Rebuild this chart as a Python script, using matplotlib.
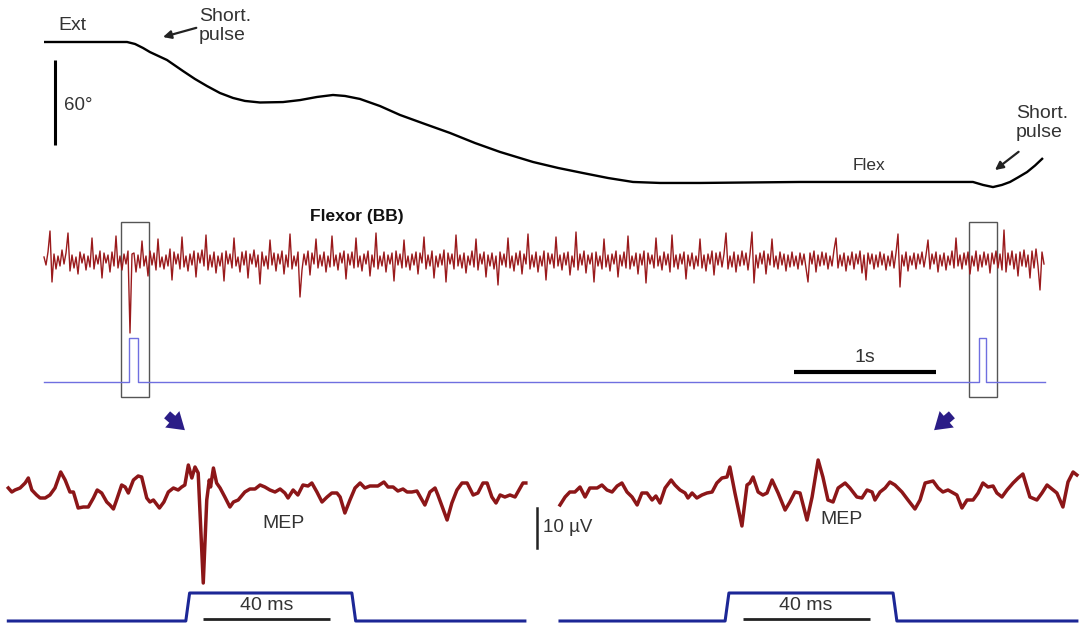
import numpy as np
import matplotlib
matplotlib.use("Agg")
import matplotlib.pyplot as plt
from matplotlib.patches import Rectangle, FancyArrowPatch

plt.rcParams['font.family'] = ['Liberation Sans', 'DejaVu Sans']

W, H = 1080, 624

# ---------------- data ----------------
# elbow angle (s, degrees of flexion from Ext)
ang_t = [0, 0.585, 0.641, 0.697, 0.746, 0.866, 0.979, 1.063, 1.148, 1.239, 1.331,
         1.415, 1.521, 1.683, 1.803, 1.923, 2.035, 2.120, 2.225, 2.366, 2.507,
         2.683, 2.859, 3.035, 3.211, 3.444, 3.620, 3.796, 3.972, 4.148, 4.338,
         4.620, 5.324, 6.028, 6.542, 6.613, 6.683, 6.746, 6.803, 6.859, 6.923,
         6.979, 7.035]
ang_deg = [0, 0, 1.4, 4.2, 7.1, 12.7, 20.5, 26.1, 31.1, 36.0, 39.5,
           41.6, 42.7, 42.4, 41.0, 38.8, 37.4, 38.1, 40.2, 45.2, 51.5,
           57.9, 64.2, 71.3, 77.6, 84.7, 88.9, 92.5, 96.0, 98.8, 99.5,
           99.5, 98.8, 98.8, 98.8, 100.9, 102.4, 100.9, 98.8, 95.6, 91.8,
           87.2, 81.9]

# flexor EMG (BB), raw trace, one sample every 2/142 s
emg_dt = 2 / 142
emg_str = """
3 -5 8 29 -22 6 -9 4 -6 10 -4 7 27 -11 5 -8 3 -14 8 -3
6 -10 4 -7 22 -9 5 -4 9 -18 7 -3 5 -12 8 -6 24 -8 4 -10
6 -4 9 -73 6 7 -12 5 -8 19 -6 4 -16 9 -5 7 -10 21 -7 3
-9 5 -6 11 -20 8 -4 6 -9 23 -7 4 -11 6 -5 9 -17 7 -3 10
-6 25 -10 5 -7 8 -13 4 -6 7 -21 9 -4 6 -8 22 -6 3 -12 8
-5 9 -18 6 -4 10 -7 5 -24 8 -6 4 -9 20 -5 7 -11 6 -4 9
-14 5 -7 26 -9 4 -6 8 -37 -10 6 -5 9 -15 7 -4 21 -8 5 -6
8 -12 4 -7 24 -6 5 -10 7 -3 9 -19 6 -5 8 -8 22 -7 4 -11
6 -4 9 -16 5 -7 27 -9 4 -6 8 -12 5 -4 7 -21 9 -5 6 -8
20 -7 4 -10 6 -5 8 -14 7 -3 23 -9 5 -6 9 -18 4 -7 6 -5
10 -22 7 -4 6 -9 25 -6 5 -8 7 -13 4 -5 9 -7 21 -10 6 -4
8 -17 5 -6 7 -9 4 -25 8 -5 6 -7 22 -8 4 -11 7 -5 9 -14
6 -4 26 -9 5 -7 8 -12 4 -6 9 -20 7 -4 6 -8 23 -6 5 -10
7 -5 8 -15 4 -7 28 -10 6 -5 9 -13 5 -4 7 -22 8 -6 4 -9
21 -7 5 -11 6 -4 9 -17 5 -6 8 -8 24 -9 4 -6 7 -14 6 -5
9 -23 7 -4 5 -8 22 -6 4 -10 8 -5 6 -12 25 -7 5 -9 6 -4
8 -19 5 -6 7 -9 4 -6 21 -8 5 -11 6 -4 9 -15 7 -5 8 -7
6 27 -9 4 -7 8 -12 5 -6 9 -5 7 -10 6 28 -23 5 -8 7 -4
9 -14 6 -5 21 -7 4 -9 8 -5 6 -11 5 -7 8 -6 4 -9 7 -5
6 -8 -22 7 -4 9 -12 5 -6 8 -5 7 -9 4 -6 10 22 -8 5 -6
7 -11 4 -5 8 -9 6 -4 9 -13 5 -20 7 -4 6 -9 5 -7 8 -5
6 -10 4 -6 9 -8 7 26 -27 5 -6 8 -11 4 -5 7 -9 6 -4 8
-7 5 20 -9 6 -4 8 -12 5 -6 7 -10 4 -5 9 -8 22 -6 5 -9
7 -5 8 -14 4 -6 9 -11 5 -7 8 -5 6 -13 7 -4 9 -8 6 -10
30 -12 7 -5 9 -9 6 -16 8 -6 10 -7 5 -18 9 -8 11 -6 -30 8
-4
"""
emg = np.array(emg_str.split(), dtype=float)
emg_t = np.arange(len(emg)) * emg_dt

# stimulation pulses (s)
pulse_on = [0.599, 6.585]
pulse_off = [0.662, 6.634]
rec_end = 7.049

# MEP sweeps (ms, uV)
mep1_t = [0.1, 1.2, 2.2, 3.8, 5.4, 6.4, 7.5, 9.0, 10.1, 11.7, 13.2, 14.8, 16.6, 18.0, 19.5,
          20.6, 22.1, 23.7, 25.3, 26.9, 28.1, 29.5, 31.1, 32.1, 33.2, 34.2, 35.8, 36.9, 37.9,
          39.5, 41.0, 42.1, 43.7, 44.7, 45.8, 47.7, 49.1, 50.5, 52.1, 53.6, 54.7, 55.7, 56.8,
          57.9, 58.9, 59.9, 61.5, 62.6, 63.4, 63.8, 64.7, 65.7, 66.8, 68.3, 69.9, 71.0, 72.5,
          74.6, 76.2, 77.8, 79.4, 80.9, 82.5, 84.1, 85.7, 87.2, 88.2, 89.8, 91.3, 92.9, 94.5,
          95.7, 97.3, 98.9, 100.5, 102.0, 103.6, 104.6, 106.1, 107.7, 109.3, 110.9, 112.4,
          114.0, 116.5, 118.4, 119.7, 121.3, 122.8, 124.4, 125.7, 127.2, 128.8, 130.4, 131.3,
          132.9, 134.5, 135.4, 138.3, 139.8, 141.4, 143.0, 144.6, 146.5, 148.0, 149.6, 150.9,
          152.4, 153.7, 155.0, 156.5, 158.1, 159.7, 161.3, 162.2, 163.1]
mep1_v = [0.5, -0.5, 0, 0.5, 1.75, 3, 0, -1.25, -2, -2, -1.25, 0.5, 4.5, 2.5, -0.5,
          -0.5, -4.5, -4.25, -4.25, -2, 0, -0.75, -3, -3.75, -4.75, -2.5, 1.25, 0.75, -0.75,
          2.5, 3.5, 3.25, -2, -3, -2.5, -4.5, -3, -0.5, 0.5, 0, 0.75, 1.25, 6.25,
          3, 5.75, 4.25, -23.25, -2.5, 2.5, 0.75, 5.5, 1.75, 0.5, -1.75, -4.25, -3, -2.5,
          -0.5, 0.25, 0.25, 1.25, 0.75, 0, -0.5, 0.25, -0.75, -2, 0, -1.25, 1.25, 1,
          1.75, -0.5, -3, -1.75, -0.75, -0.75, -1.75, -5.75, -2.5, 0.5, 1.75, 0.5,
          1, 1, 2, 0.75, 0.75, -0.25, 0.25, -0.5, -0.5, -0.25, -2.5, -3.75,
          -0.5, 0.5, -1.25, -7.5, -3.25, 0, 1.75, 1.75, -1.25, -0.75, 1.75, 1.75,
          -1.75, -3.25, -1.25, -1.75, -1.25, -1.75, 0.5, 1.75, 1.75]

mep2_t = [0, 1.6, 3.1, 4.7, 6.3, 7.9, 9.4, 11.7, 13.2, 14.8,
          16.4, 18.0, 19.5, 21.1, 22.7, 24.3, 25.8, 27.4, 29.0, 30.2,
          31.5, 33.1, 35.0, 36.2, 37.8, 39.4, 40.3, 41.6, 43.1, 44.7,
          46.3, 47.9, 49.4, 51.0, 52.6, 53.5, 55.1, 57.3, 58.9, 59.8,
          60.8, 62.4, 63.9, 65.2, 66.8, 68.7, 70.9, 72.4, 74.0, 75.6,
          77.8, 79.4, 81.3, 82.8, 84.4, 86.0, 87.6, 89.8, 91.3, 93.5,
          95.1, 96.7, 98.3, 99.2, 100.8, 102.4, 103.9, 105.5, 107.7, 109.6,
          111.8, 113.4, 115.0, 117.5, 119.1, 120.6, 122.2, 125.0, 126.6, 128.2,
          130.1, 131.7, 133.2, 134.8, 136.4, 137.6, 139.2, 140.8, 142.7, 144.3,
          145.8, 148.0, 150.2, 151.8, 153.4, 156.5, 158.4, 160.0, 161.6, 162.8]
mep2_v = [-3.75, -1.75, -0.5, -0.5, 0.75, -1.75, 0.5, 0.5, 1.25, 0,
          -0.5, 1, 1.75, -0.5, -1.75, -3.75, -0.75, -0.75, -2.5, -1.5,
          -3.25, 0.5, 2.5, 1.25, 0, -0.75, -2, -0.75, -2, -1.25,
          -0.75, -0.5, 1.75, 3, 3.25, 5.75, -0.75, -9, 1.25, 1.75,
          3.25, -0.5, -1.25, -0.75, 2.5, -0.75, -5, -3, -0.5, -0.75,
          -7.5, -1.75, 7.5, 3.25, -2.5, -3, 0.5, 1.75, 0.5, -1.75,
          -2, 0, -0.5, -2.5, -0.5, 0.5, 2, 1.25, -0.5, -2.5,
          -4.75, -2.5, 1.75, 2.25, 0.5, -0.5, 0, -1.25, -4.5, -2.5,
          -2.5, -0.75, 1.75, 0.75, 1, -0.75, -1.75, 0, 1.75, 3,
          4, -1.75, -2.5, -0.75, 1.25, -0.75, -4.25, 2, 4.5, 3.75]

# stimulus window in each sweep (ms)
sweep_on = [56.0, 52.0]
sweep_off = [108.3, 104.9]
sweep_end = 162.8
bar_ms = [61.5, 57.5]

# ---------------- layout ----------------
RED = '#9a1a1c'
RED_DARK = '#8c1618'
BLUE_THIN = '#6f6fe0'
BLUE = '#1c2796'
TXT = '#333333'
FS = 14


def box(x0, y0, x1, y1):
    return [x0 / W, 1 - y1 / H, (x1 - x0) / W, (y1 - y0) / H]


def fig_xy(x, y):
    return (x / W, 1 - y / H)


fig = plt.figure(figsize=(W / 100, H / 100), dpi=100)

X0, PX_S = 44, 142  # time origin (px) and px per second

# ---- top: elbow angle ----
ax1 = fig.add_axes(box(0, 0, W, 205))
ax1.set_xlim(-X0 / PX_S, (W - X0) / PX_S)
ax1.set_ylim((205 - 42) * 60 / 85, (0 - 42) * 60 / 85)
ax1.plot(ang_t, ang_deg, color='black', lw=1.7, solid_capstyle='butt', solid_joinstyle='round')
ax1.plot([0.077, 0.077], [12.7, 72.7], color='black', lw=2.2, solid_capstyle='butt')
ax1.text(0.141, 44.5, '60°', fontsize=13.5, color=TXT, ha='left', va='center')
ax1.text(0.197, -12, 'Ext', fontsize=FS, color=TXT, ha='center', va='center')
ax1.text(5.81, 87.5, 'Flex', fontsize=12.5, color=TXT, ha='center', va='center')
ax1.annotate('Short.\npulse', xy=(0.838, -3.5), xytext=(1.092, -11.3), fontsize=FS,
             color=TXT, ha='left', va='center', linespacing=1.15,
             arrowprops=dict(arrowstyle='-|>', color='#222222', lw=1.6, mutation_scale=12,
                             shrinkA=0, shrinkB=0, relpos=(-0.05, 0.45)))
ax1.annotate('Short.\npulse', xy=(6.697, 90.4), xytext=(6.845, 57.2), fontsize=FS,
             color=TXT, ha='left', va='center', linespacing=1.15,
             arrowprops=dict(arrowstyle='-|>', color='#222222', lw=1.6, mutation_scale=12,
                             shrinkA=0, shrinkB=0, relpos=(0.05, -0.3)))
ax1.axis('off')

# ---- middle: EMG + trigger ----
ax2 = fig.add_axes(box(0, 200, W, 410))
ax2.set_xlim(-X0 / PX_S, (W - X0) / PX_S)
ax2.set_ylim(-150, 60)
ax2.plot(emg_t, emg, color=RED, lw=1.0)

TRIG_Y, TRIG_H = -122, 44
tt, tv = [0], [0]
for on, off in zip(pulse_on, pulse_off):
    tt += [on, on, off, off]
    tv += [0, 1, 1, 0]
tt.append(rec_end)
tv.append(0)
ax2.plot(tt, TRIG_Y + TRIG_H * np.array(tv), color=BLUE_THIN, lw=1.0)

for on in [0.542, 6.514]:
    ax2.add_patch(Rectangle((on, -137), 0.200, 175, fill=False, ec='#555555', lw=1.0))

ax2.plot([5.28, 6.28], [-112, -112], color='black', lw=3, solid_capstyle='butt')
ax2.text(5.78, -98, '1s', fontsize=FS, color=TXT, ha='center', va='center')
ax2.text(2.204, 44, 'Flexor (BB)', fontsize=12.5, fontweight='bold', color='#111111',
         ha='center', va='center')
ax2.axis('off')

# blue arrows pointing to the enlarged sweeps
for p0, p1 in [((165, 413), (187, 432)), ((954, 413), (932, 432))]:
    fig.add_artist(FancyArrowPatch(fig_xy(*p0), fig_xy(*p1), transform=fig.transFigure,
                                   arrowstyle='simple,head_width=1.3,head_length=1.0,tail_width=0.55',
                                   mutation_scale=12, color='#2b1d87', lw=0))

# ---- bottom: MEP sweeps ----
PX_MS = 3.175
PULSE_Y, PULSE_H = -32.75, 7.0
panels = [(0, 530, 8, mep1_t, mep1_v), (530, W, 560, mep2_t, mep2_v)]
for i, (xa, xb, xorig, mt, mv) in enumerate(panels):
    ax = fig.add_axes(box(xa, 440, xb, H))
    ax.set_xlim((xa - xorig) / PX_MS, (xb - xorig) / PX_MS)
    ax.set_ylim(-33.5, 12.5)
    ax.plot(mt, mv, color=RED_DARK, lw=2.5, solid_joinstyle='round')
    on, off = sweep_on[i], sweep_off[i]
    px = [mt[0], on, on + 1.2, off, off + 1.2, sweep_end]
    py = [0, 0, 1, 1, 0, 0]
    ax.plot(px, PULSE_Y + PULSE_H * np.array(py), color=BLUE, lw=2.2)
    ax.plot([bar_ms[i], bar_ms[i] + 40], [PULSE_Y + 0.5] * 2, color='#222222', lw=2,
            solid_capstyle='butt', zorder=3)
    ax.text(bar_ms[i] + 20, -29, '40 ms', fontsize=FS, color=TXT, ha='center', va='center')
    ax.text([86.9, 88.8][i], [-8.5, -7.5][i], 'MEP', fontsize=FS, color=TXT,
            ha='center', va='center')
    if i == 1:
        ax.plot([-7.24, -7.24], [-4.5, -14.5], color='#222222', lw=1.8, clip_on=False)
        ax.text(-5.35, -9.25, '10 µV', fontsize=13.5, color=TXT, ha='left', va='center')
    ax.axis('off')

fig.savefig('out.png', dpi=100)
